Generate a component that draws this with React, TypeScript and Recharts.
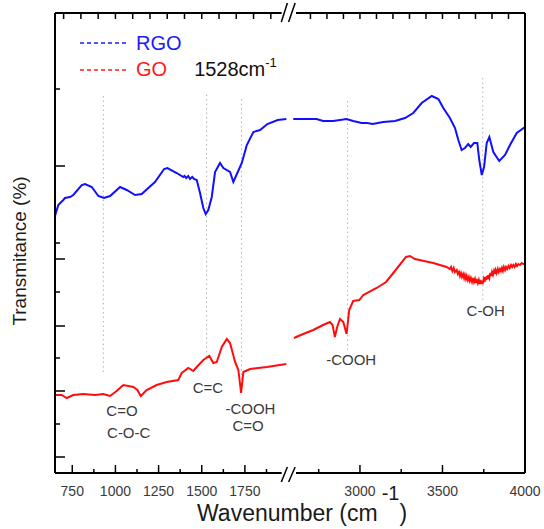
import React from "react";
import { LineChart, Line, XAxis, YAxis, ReferenceLine, ReferenceDot, Legend } from "recharts";

const FONT = '"Liberation Sans", Arial, Helvetica, sans-serif';
const INK = "#3a3a3a";

// RGO spectrum, below and above the axis break (wavenumber cm-1 / transmittance a.u.)
const rgoLowWn = [650, 669, 698, 708, 737, 756, 805, 824, 863, 901, 934, 969, 1027, 1065, 1114, 1152, 1229, 1282, 1301, 1355, 1393, 1400, 1410, 1422, 1432, 1445, 1455, 1471, 1490, 1509, 1523, 1538, 1558, 1577, 1606, 1625, 1664, 1683, 1706, 1732, 1761, 1799, 1838, 1880, 1940, 1990];
const rgoLowT = [25.7, 26.8, 27.3, 27.5, 27.6, 27.8, 28.8, 28.9, 28.6, 27.7, 27.5, 27.7, 28.6, 28.3, 27.8, 27.9, 29.1, 30.4, 30.5, 30.0, 29.6, 29.7, 29.5, 29.7, 29.4, 29.6, 29.4, 29.3, 28.0, 26.5, 25.9, 26.3, 27.6, 30.1, 31.0, 30.5, 30.1, 29.1, 30.0, 31.0, 32.8, 34.1, 34.3, 34.9, 35.3, 35.4];
const rgoHighWn = [2596, 2737, 2777, 2838, 2919, 2959, 3010, 3044, 3077, 3141, 3212, 3273, 3323, 3374, 3435, 3475, 3505, 3545, 3576, 3596, 3616, 3636, 3656, 3671, 3691, 3711, 3723, 3738, 3752, 3768, 3784, 3808, 3844, 3879, 3909, 3950, 4000];
const rgoHighT = [35.4, 35.4, 35.2, 35.2, 35.4, 35.2, 35.0, 35.0, 34.9, 35.1, 35.2, 35.5, 36.0, 37.0, 37.7, 37.4, 36.5, 35.5, 34.5, 33.3, 32.3, 32.5, 32.9, 32.6, 33.0, 33.0, 31.3, 29.8, 30.6, 33.0, 33.6, 32.1, 31.2, 31.8, 32.8, 34.0, 34.6];

// GO spectrum
const goLowWn = [650, 689, 718, 756, 814, 882, 930, 969, 1007, 1046, 1104, 1127, 1147, 1181, 1239, 1297, 1364, 1384, 1422, 1451, 1471, 1509, 1544, 1567, 1587, 1616, 1645, 1664, 1693, 1712, 1728, 1741, 1780, 1877, 1990];
const goLowT = [7.8, 7.8, 7.5, 7.8, 7.9, 7.8, 7.9, 7.7, 8.2, 8.8, 8.6, 8.3, 7.7, 8.3, 8.8, 9.1, 9.3, 10.0, 10.5, 10.2, 10.6, 11.3, 11.7, 11.0, 11.1, 12.6, 13.4, 13.0, 11.1, 10.3, 8.0, 10.1, 10.4, 10.6, 10.9];
const goHighWn = [2600, 2656, 2717, 2777, 2818, 2834, 2848, 2862, 2879, 2899, 2919, 2935, 2959, 2996, 3020, 3101, 3158, 3202, 3279, 3303, 3333, 3444, 3525, 3545, 3552, 3560, 3568, 3575, 3586, 3593, 3600, 3606, 3612, 3618, 3625, 3631, 3636, 3642, 3647, 3654, 3660, 3666, 3672, 3679, 3685, 3691, 3697, 3702, 3707, 3714, 3720, 3725, 3730, 3734, 3738, 3744, 3750, 3755, 3760, 3765, 3770, 3774, 3778, 3784, 3790, 3795, 3800, 3806, 3812, 3817, 3822, 3828, 3835, 3841, 3848, 3854, 3860, 3866, 3872, 3879, 3885, 3892, 3900, 3907, 3915, 3922, 3929, 3937, 3945, 3952, 3960, 3970, 3980, 3990, 4000];
const goHighT = [13.5, 13.9, 14.3, 14.8, 15.1, 14.8, 13.6, 14.6, 15.4, 15.1, 13.9, 16.3, 17.2, 17.3, 17.8, 18.5, 19.1, 20.0, 21.6, 21.7, 21.4, 21.0, 20.6, 20.4, 20.6, 20.2, 20.5, 20.1, 20.3, 19.9, 20.1, 19.7, 20.0, 19.6, 19.9, 19.5, 19.8, 19.4, 19.7, 19.3, 19.6, 19.2, 19.5, 19.1, 19.5, 19.1, 19.4, 19.0, 19.4, 19.0, 19.3, 18.9, 19.3, 18.9, 19.1, 19.0, 19.4, 19.1, 19.6, 19.3, 19.7, 19.4, 19.8, 19.5, 20.0, 19.7, 20.1, 19.8, 20.2, 19.9, 20.3, 20.0, 20.4, 20.1, 20.4, 20.2, 20.5, 20.2, 20.6, 20.3, 20.6, 20.4, 20.7, 20.5, 20.8, 20.6, 20.8, 20.6, 20.9, 20.7, 20.9, 20.8, 21.0, 20.9, 20.9];

// band guides (dotted) and their labels
const bandWn = [930, 1528, 1730, 2925, 3744];
const bandTop = [38.0, 38.1, 37.6, 37.5, 39.7];
const bandBottom = [10.1, 11.6, 8.0, 12.3, 17.3];
const labelText = ["C=O", "C-O-C", "C=C", "-COOH", "C=O", "-COOH", "C-OH"];
const labelWn = [1038, 1077, 1536, 1782, 1768, 2947, 3762];
const labelT = [6.2, 4.05, 8.55, 6.4, 4.7, 11.3, 16.2];

// ticks
const bottomMajor = [750, 1000, 1250, 1500, 1750, 3000, 3500, 4000];
const bottomMinor = [875, 1125, 1375, 1625, 1875, 2750, 3250, 3750];
const topTicks = [700, 800, 900, 1000, 1100, 1200, 1300, 1400, 1500, 1600, 1700, 1800, 1900, 2700, 2800, 2900, 3000, 3100, 3200, 3300, 3400, 3500, 3600, 3700, 3800, 3900];
const leftLong = [30.7, 21.4, 14.7, 8.2, 1.6];
const leftShort = [38.4, 23.0, 18.1, 11.5, 4.9];

// broken axis: 650-2011 and 2576-4000, the upper part drawn slightly tighter
const BREAK_LO = 2011;
const BREAK_HI = 2576;
const HIGH_SCALE = 0.956;
const toAxis = (w: number) => (w <= BREAK_LO ? w : BREAK_LO + (w - BREAK_HI) * HIGH_SCALE);
const fromAxis = (u: number) => (u <= BREAK_LO ? u : BREAK_HI + (u - BREAK_LO) / HIGH_SCALE);
const AX_MIN = 650;
const AX_MAX = toAxis(4000);
const T_MAX = 46;

const joinSegments = (lowWn: number[], lowT: number[], highWn: number[], highT: number[]) => [
  ...lowWn.map((w, i) => ({ u: toAxis(w), t: lowT[i] })),
  { u: BREAK_LO, t: null },
  ...highWn.map((w, i) => ({ u: toAxis(w), t: highT[i] })),
];

const rgoData = joinSegments(rgoLowWn, rgoLowT, rgoHighWn, rgoHighT);
const goData = joinSegments(goLowWn, goLowT, goHighWn, goHighT);

const legendItems = [
  { name: "RGO", color: "#1a1aff" },
  { name: "GO", color: "#ff1a1a", note: "1528cm" },
];

const renderLegend = () => (
  <div style={{ fontFamily: FONT, fontSize: 20 }}>
    {legendItems.map((it) => (
      <div key={it.name} style={{ display: "flex", alignItems: "center", height: 26.5, whiteSpace: "nowrap" }}>
        <svg width={48} height={4}>
          <line x1={0} y1={2} x2={48} y2={2} stroke={it.color} strokeWidth={1.6} strokeDasharray="4 3" />
        </svg>
        <span style={{ marginLeft: 8, color: it.color }}>{it.name}</span>
        {it.note && (
          <span style={{ marginLeft: 27, color: "#111" }}>
            {it.note}
            <span style={{ fontSize: 13, position: "relative", top: -9 }}>-1</span>
          </span>
        )}
      </div>
    ))}
  </div>
);

const renderBottomTick = (props: any) => {
  const { x, y, payload } = props;
  const w = Math.round(fromAxis(payload.value));
  const major = bottomMajor.includes(w);
  return (
    <g>
      <line x1={x} y1={y} x2={x} y2={y - (major ? 8 : 4)} stroke="#000" strokeWidth={1.5} />
      {major && (
        <text x={x} y={y + 23} textAnchor="middle" fontSize={14} fill={INK} fontFamily={FONT}>
          {w}
        </text>
      )}
    </g>
  );
};

const renderLeftTick = (props: any) => {
  const { x, y, payload } = props;
  const len = leftLong.includes(payload.value) ? 10 : 5;
  return <line x1={x} y1={y} x2={x + len} y2={y} stroke="#000" strokeWidth={1.5} />;
};

const renderXTitle = (props: any) => {
  const vb = props.viewBox || { x: 55, y: 473 };
  return (
    <text x={vb.x + 142} y={vb.y + 48} fontFamily={FONT} fontSize={23} fill="#1a1a1a">
      Wavenumber (cm
      <tspan dx={4} dy={-21} fontSize={20}>-1</tspan>
      <tspan dy={21} fontSize={23}>)</tspan>
    </text>
  );
};

const renderYTitle = (props: any) => {
  const vb = props.viewBox || { x: 0, y: 13, height: 460 };
  const cx = vb.x + 26;
  const cy = vb.y + vb.height / 2 + 8;
  return (
    <text x={cx} y={cy} transform={`rotate(-90, ${cx}, ${cy})`} textAnchor="middle" fontFamily={FONT} fontSize={19} fill="#1a1a1a">
      Transmitance (%)
    </text>
  );
};

const frame = { stroke: "#000", strokeWidth: 2, ifOverflow: "visible" as const };
const slashes = [
  [-50, -15],
  [-8, 30],
];

export default function App() {
  return (
    <div style={{ position: "absolute", left: 0, top: 0, background: "#fff" }}>
      <LineChart width={544} height={529} margin={{ top: 13, right: 19, bottom: 0, left: 0 }}>
        <XAxis
          type="number"
          dataKey="u"
          domain={[AX_MIN, AX_MAX]}
          allowDataOverflow
          height={56}
          ticks={[...bottomMajor, ...bottomMinor].map(toAxis)}
          interval={0}
          axisLine={false}
          tickLine={false}
          tickSize={0}
          tickMargin={0}
          tick={renderBottomTick}
          label={{ content: renderXTitle }}
        />
        <XAxis
          xAxisId="top"
          orientation="top"
          mirror
          type="number"
          dataKey="u"
          domain={[AX_MIN, AX_MAX]}
          allowDataOverflow
          ticks={topTicks.map(toAxis)}
          interval={0}
          axisLine={false}
          tickSize={6}
          tickLine={{ stroke: "#000", strokeWidth: 1.5 }}
          tickFormatter={() => ""}
        />
        <YAxis
          type="number"
          domain={[0, T_MAX]}
          width={55}
          ticks={[...leftLong, ...leftShort]}
          interval={0}
          axisLine={false}
          tickLine={false}
          tickSize={0}
          tickMargin={0}
          tick={renderLeftTick}
          label={{ content: renderYTitle }}
        />
        <Legend layout="vertical" align="center" verticalAlign="middle" wrapperStyle={{ left: 80, top: 30, width: 260 }} content={renderLegend} />

        {/* band guides */}
        {bandWn.map((w, i) => (
          <ReferenceLine
            key={"band" + i}
            segment={[{ x: toAxis(w), y: bandBottom[i] }, { x: toAxis(w), y: bandTop[i] }]}
            stroke="#b4b4b4"
            strokeWidth={1}
            strokeDasharray="1.5 3"
            ifOverflow="visible"
          />
        ))}

        <Line data={rgoData} dataKey="t" type="linear" stroke="#1010ff" strokeWidth={2} dot={false} isAnimationActive={false} />
        <Line data={goData} dataKey="t" type="linear" stroke="#ff0d0d" strokeWidth={2} dot={false} isAnimationActive={false} />

        {labelText.map((txt, i) => (
          <ReferenceDot
            key={"lab" + i}
            x={toAxis(labelWn[i])}
            y={labelT[i]}
            r={0}
            fill="none"
            stroke="none"
            ifOverflow="visible"
            label={{ value: txt, position: "center", fill: INK, fontSize: 15, fontFamily: FONT }}
          />
        ))}

        {/* frame with the axis break */}
        <ReferenceLine x={AX_MIN} {...frame} />
        <ReferenceLine x={AX_MAX} {...frame} />
        {[0, T_MAX].map((y) => (
          <ReferenceLine key={"l" + y} segment={[{ x: AX_MIN, y }, { x: BREAK_LO - 48, y }]} {...frame} />
        ))}
        {[0, T_MAX].map((y) => (
          <ReferenceLine key={"r" + y} segment={[{ x: BREAK_LO + 35, y }, { x: AX_MAX, y }]} {...frame} />
        ))}
        {slashes.map(([a, b], i) => (
          <ReferenceLine key={"sb" + i} segment={[{ x: BREAK_LO + a, y: -0.9 }, { x: BREAK_LO + b, y: 0.6 }]} stroke="#000" strokeWidth={1.5} ifOverflow="visible" />
        ))}
        {slashes.map(([a, b], i) => (
          <ReferenceLine key={"st" + i} segment={[{ x: BREAK_LO + a, y: T_MAX - 0.9 }, { x: BREAK_LO + b, y: T_MAX + 1 }]} stroke="#000" strokeWidth={1.5} ifOverflow="visible" />
        ))}
      </LineChart>
    </div>
  );
}
